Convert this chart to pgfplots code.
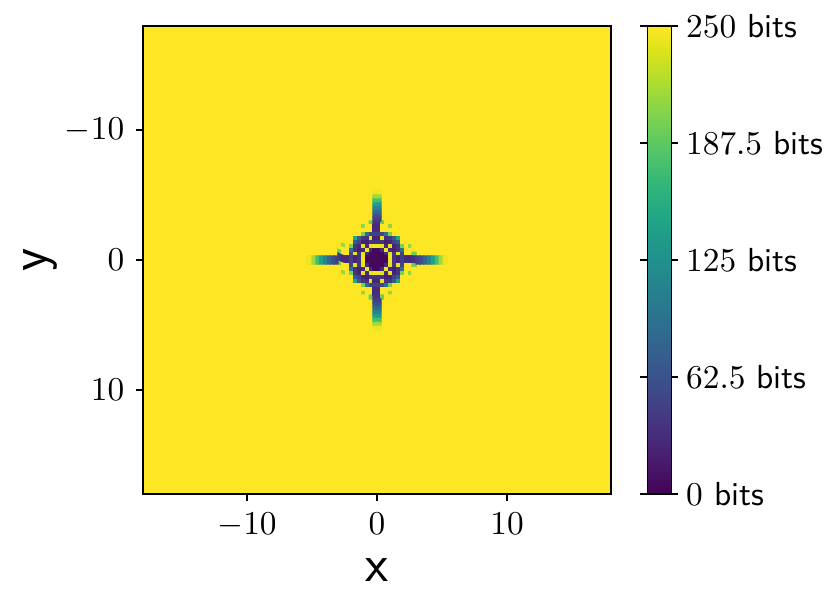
\documentclass[border=0pt]{standalone}
\usepackage{pgfplots}
\usepackage{pgfplotstable}
\pgfplotsset{compat=1.18}

% background: whole field at the top value
\pgfplotstableread{
x y z
-9 -9 250
9 -9 250
-9 9 250
9 9 250
}\bgtable

% centre block, 20x20 cells of 0.3, rows from y=-2.85 to y=2.85
\pgfplotstableread[row sep=\\]{
z\\
250\\250\\250\\250\\250\\250\\250\\250\\195\\35\\35\\195\\250\\250\\250\\250\\250\\250\\250\\250\\
250\\250\\250\\250\\250\\250\\210\\250\\250\\30\\30\\250\\250\\210\\250\\250\\250\\250\\250\\250\\
250\\250\\250\\250\\250\\250\\250\\250\\250\\30\\30\\250\\250\\250\\250\\250\\250\\250\\250\\250\\
250\\250\\250\\250\\250\\250\\200\\90\\50\\45\\45\\50\\90\\200\\250\\250\\250\\250\\250\\250\\
250\\250\\250\\250\\150\\70\\40\\35\\240\\25\\25\\240\\35\\40\\70\\150\\250\\250\\250\\250\\
250\\250\\250\\250\\70\\50\\25\\20\\40\\35\\35\\40\\20\\25\\50\\70\\250\\250\\250\\250\\
250\\210\\250\\200\\40\\25\\240\\30\\240\\245\\245\\240\\30\\240\\25\\40\\200\\250\\210\\250\\
250\\250\\250\\90\\35\\20\\30\\245\\30\\5\\5\\30\\245\\30\\20\\35\\90\\250\\250\\250\\
195\\250\\250\\50\\240\\40\\240\\30\\5\\5\\5\\5\\30\\240\\40\\240\\50\\250\\250\\195\\
35\\30\\30\\45\\25\\35\\245\\5\\5\\5\\5\\5\\5\\245\\35\\25\\45\\30\\30\\35\\
35\\30\\30\\45\\25\\35\\245\\5\\5\\5\\5\\5\\5\\245\\35\\25\\45\\30\\30\\35\\
195\\250\\250\\50\\240\\40\\240\\30\\5\\5\\5\\5\\30\\240\\40\\240\\50\\250\\250\\195\\
250\\250\\250\\90\\35\\20\\30\\245\\30\\5\\5\\30\\245\\30\\20\\35\\90\\250\\250\\250\\
250\\210\\250\\200\\40\\25\\240\\30\\240\\245\\245\\240\\30\\240\\25\\40\\200\\250\\210\\250\\
250\\250\\250\\250\\70\\50\\25\\20\\40\\35\\35\\40\\20\\25\\50\\70\\250\\250\\250\\250\\
250\\250\\250\\250\\150\\70\\40\\35\\240\\25\\25\\240\\35\\40\\70\\150\\250\\250\\250\\250\\
250\\250\\250\\250\\250\\250\\200\\90\\50\\45\\45\\50\\90\\200\\250\\250\\250\\250\\250\\250\\
250\\250\\250\\250\\250\\250\\250\\250\\250\\30\\30\\250\\250\\250\\250\\250\\250\\250\\250\\250\\
250\\250\\250\\250\\250\\250\\210\\250\\250\\30\\30\\250\\250\\210\\250\\250\\250\\250\\250\\250\\
250\\250\\250\\250\\250\\250\\250\\250\\195\\35\\35\\195\\250\\250\\250\\250\\250\\250\\250\\250\\
}\core

% horizontal arm (right side), two rows of cells
\pgfplotstableread{
x y z
3.15 -0.15 45
3.45 -0.15 60
3.75 -0.15 85
4.05 -0.15 110
4.35 -0.15 140
4.65 -0.15 175
4.95 -0.15 215
5.25 -0.15 245
3.15 0.15 45
3.45 0.15 60
3.75 0.15 85
4.05 0.15 110
4.35 0.15 140
4.65 0.15 175
4.95 0.15 215
5.25 0.15 245
}\armH

% vertical arm (lower side)
\pgfplotstableread{
x y z
-0.15 3.15 45
0.15 3.15 45
-0.15 3.45 60
0.15 3.45 60
-0.15 3.75 85
0.15 3.75 85
-0.15 4.05 110
0.15 4.05 110
-0.15 4.35 140
0.15 4.35 140
-0.15 4.65 175
0.15 4.65 175
-0.15 4.95 215
0.15 4.95 215
-0.15 5.25 245
0.15 5.25 245
}\armV

\begin{document}
\begin{tikzpicture}
\begin{axis}[
    name=main,
    scale only axis,
    width=140.4pt, height=140.4pt,
    xmin=-18, xmax=18, ymin=-18, ymax=18,
    y dir=reverse,
    enlargelimits=false,
    axis on top,
    xtick={-10,0,10}, ytick={-10,0,10},
    tick align=outside,
    major tick length=2.1pt,
    xtick pos=bottom, ytick pos=left,
    axis line style={line width=0.5pt},
    every tick/.style={black, line width=0.5pt},
    colormap/viridis,
    point meta min=0, point meta max=250,
    colorbar,
    colorbar style={
        at={(parent axis.north east)}, anchor=north west,
        xshift=2.4pt,
        width=7.2pt,
        ytick={0,62.5,125,187.5,250},
        yticklabels={{$0$ \textsf{bits}},{$62.5$ \textsf{bits}},{$125$ \textsf{bits}},{$187.5$ \textsf{bits}},{$250$ \textsf{bits}}},
        yticklabel style={xshift=-1.2pt},
        tick align=outside,
        major tick length=2.1pt,
        axis line style={line width=0.5pt},
    },
    xlabel={\fontsize{16}{18}\selectfont\textsf{x}},
    ylabel={\fontsize{16}{18}\selectfont\textsf{y}},
    xlabel style={at={(axis description cs:0.5,-0.162)}, anchor=center},
    ylabel style={at={(axis description cs:-0.22,0.5)}, anchor=center},
]
\addplot[matrix plot*, shader=flat corner, mesh/cols=2, point meta=explicit]
    table[x=x, y=y, meta=z] {\bgtable};
\addplot[matrix plot*, shader=flat corner, mesh/cols=20, point meta=explicit]
    table[x index=0, y index=0, meta index=0, x expr={-2.85+0.3*mod(\coordindex,20)}, y expr={-2.85+0.3*floor(\coordindex/20)}] {\core};
\addplot[matrix plot*, shader=flat corner, mesh/cols=8, point meta=explicit]
    table[x=x, y=y, meta=z] {\armH};
\addplot[matrix plot*, shader=flat corner, mesh/cols=8, point meta=explicit]
    table[x expr=-\thisrow{x}, y=y, meta=z] {\armH};
\addplot[matrix plot*, shader=flat corner, mesh/cols=2, point meta=explicit]
    table[x=x, y=y, meta=z] {\armV};
\addplot[matrix plot*, shader=flat corner, mesh/cols=2, point meta=explicit]
    table[x=x, y expr=-\thisrow{y}, meta=z] {\armV};
\end{axis}
\pgfresetboundingbox
\useasboundingbox ([shift={(-42.9pt,-34.8pt)}]main.south west) rectangle ([shift={(65.7pt,7.8pt)}]main.north east);
\end{tikzpicture}
\end{document}
